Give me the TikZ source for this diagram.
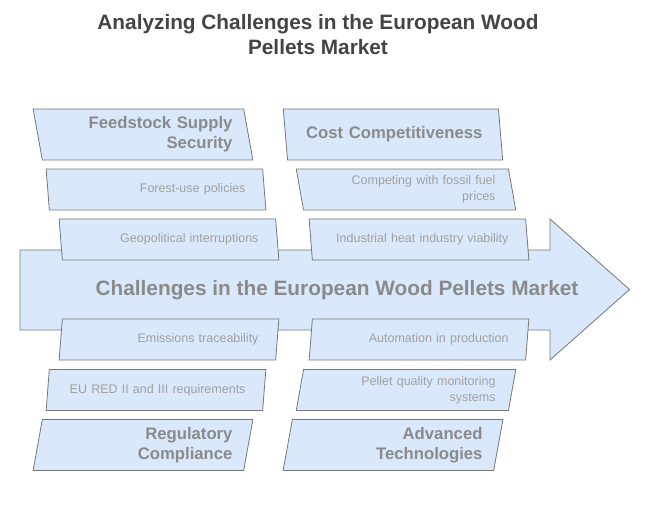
\documentclass[tikz,border=0pt]{standalone}
\usepackage{fontspec}
\setmainfont{Liberation Sans}
\usetikzlibrary{shapes.geometric}

\definecolor{boxfill}{HTML}{DAE8FC}
\definecolor{boxline}{HTML}{777777}
\definecolor{headtext}{HTML}{8A8A8A}
\definecolor{itemtext}{HTML}{A0A0A0}
\definecolor{titletext}{HTML}{444444}

\tikzset{
  slab/.style={trapezium, trapezium stretches=true, draw=boxline, fill=boxfill,
    line width=0.8pt, inner sep=0pt, minimum width=220pt, minimum height=41pt,
    text width=179pt, align=right, execute at begin node={\hyphenpenalty=10000}},
  up/.style={slab, trapezium left angle=103, trapezium right angle=77},
  down/.style={slab, trapezium left angle=77, trapezium right angle=103},
  head/.style={font=\bfseries\fontsize{16.7}{20}\selectfont, text=headtext, minimum height=51pt},
  item/.style={font=\fontsize{12.5}{16}\selectfont, text=itemtext}
}

\begin{document}
\begin{tikzpicture}[x=1pt,y=-1pt]
            \useasboundingbox (0,0) rectangle (650,510);
            \node (title) at (318,34.5) [align=center, text=titletext,
              font=\bfseries\fontsize{20.8}{25}\selectfont]
              {Analyzing Challenges in the European Wood\\Pellets Market};

            % the spine
            \draw[draw=boxline, fill=boxfill, line width=0.8pt]
              (20,250) -- (550,250) -- (550,219) -- (629.5,289.5)
              -- (550,360) -- (550,330) -- (20,330) -- cycle;
            \node (spine) at (337,290) [text=headtext,
              font=\bfseries\fontsize{20.8}{25}\selectfont]
              {Challenges in the European Wood Pellets Market};

            % upper bones
            \node (supply) at (143,134.5) [up, head] {Feedstock Supply\\Security};
            \node (forest) at (156,189.5) [up, item] {Forest-use policies};
            \node (geo)    at (169,239.5) [up, item] {Geopolitical interruptions};
            \node (cost)   at (393,134.5) [up, head] {Cost Competitiveness};
            \node (fossil) at (406,189.5) [up, item] {Competing with fossil fuel\\prices};
            \node (heat)   at (419,239.5) [up, item] {Industrial heat industry viability};

            % lower bones
            \node (trace)  at (169,339.5) [down, item] {Emissions traceability};
            \node (red)    at (156,390)   [down, item] {EU RED II and III requirements};
            \node (reg)    at (143,445)   [down, head] {Regulatory\\Compliance};
            \node (auto)   at (419,339.5) [down, item] {Automation in production};
            \node (pellet) at (406,390)   [down, item] {Pellet quality monitoring\\systems};
            \node (tech)   at (393,445)   [down, head] {Advanced\\Technologies};

        \end{tikzpicture}
\end{document}
